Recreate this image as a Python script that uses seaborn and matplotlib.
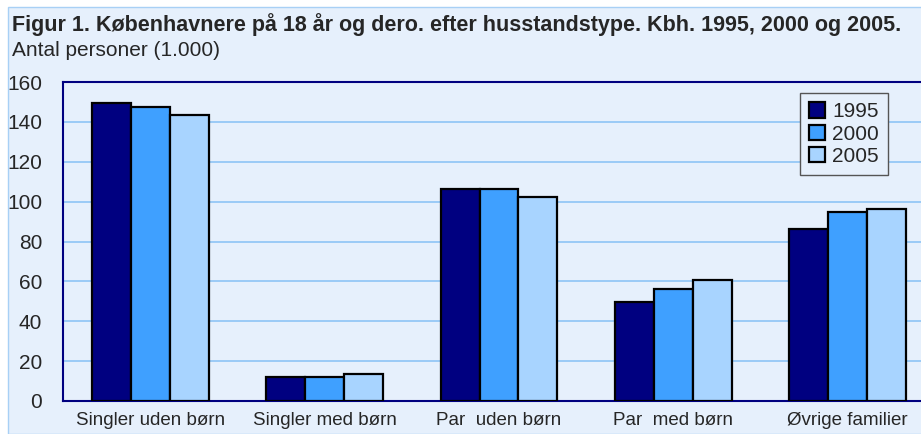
import pandas as pd
import seaborn as sns
import matplotlib.pyplot as plt
from matplotlib.patches import Rectangle

# data (1.000 persons)
kategorier = ['Singler uden børn', 'Singler med børn', 'Par  uden børn', 'Par  med børn', 'Øvrige familier']
aar = ['1995', '2000', '2005']
v1995 = [149.5, 12, 106.5, 49.5, 86.5]
v2000 = [147.5, 12, 106.5, 56, 95]
v2005 = [143.5, 13.5, 102.5, 60.5, 96.5]
farver = ['#000080', '#3fa0ff', '#a8d4ff']

df = pd.DataFrame({
    'kategori': kategorier * 3,
    'aar': [aar[0]] * 5 + [aar[1]] * 5 + [aar[2]] * 5,
    'antal': v1995 + v2000 + v2005,
})

sns.set_style('white')
plt.rcParams['font.family'] = ['Liberation Sans', 'DejaVu Sans']

bg = '#e6f0fc'
fig = plt.figure(figsize=(9.21, 4.34), dpi=100)
fig.patch.set_facecolor('white')
fig.patches.append(Rectangle((8 / 921, 0), 1, 1 - 7 / 434, transform=fig.transFigure,
                             facecolor=bg, edgecolor='#a8d0f5', linewidth=1, zorder=-10))

ax = fig.add_axes([63 / 921, 33 / 434, 872 / 921, 319 / 434])
ax.set_facecolor(bg)

sns.barplot(data=df, x='kategori', y='antal', hue='aar', palette=farver, saturation=1,
            width=0.67, gap=0, edgecolor='black', linewidth=1.6, ax=ax, zorder=3)

ax.set_ylim(0, 160)
ax.set_yticks(range(0, 161, 20))
ax.set_xlim(-0.5, 4.5)
ax.yaxis.grid(True, color='#8ec4f5', linewidth=1.2, zorder=0)
ax.set_axisbelow(True)
for s in ['left', 'bottom', 'top', 'right']:
    ax.spines[s].set_color('#000080')
    ax.spines[s].set_linewidth(1.5)
ax.tick_params(axis='y', length=0, labelsize=15, pad=15)
ax.tick_params(axis='x', length=0, labelsize=13.5, pad=8)
ax.set_xlabel('')
ax.set_ylabel('')

leg = ax.legend(loc='upper left', bbox_to_anchor=(800 / 921, 1 - 93 / 434), bbox_transform=fig.transFigure,
                fontsize=15, frameon=True, fancybox=False, framealpha=1,
                handlelength=0.75, handleheight=0.75, handletextpad=0.35,
                labelspacing=0.15, borderpad=0.45, borderaxespad=0)
leg.get_frame().set_facecolor(bg)
leg.get_frame().set_edgecolor('#555555')
leg.get_frame().set_linewidth(1)

fig.text(12 / 921, 1 - 25 / 434, 'Figur 1. Københavnere på 18 år og dero. efter husstandstype. Kbh. 1995, 2000 og 2005.',
         fontsize=15.5, fontweight='bold', va='center', ha='left')
fig.text(12 / 921, 1 - 51 / 434, 'Antal personer (1.000)', fontsize=15, va='center', ha='left')

fig.savefig('out.png', dpi=100)
